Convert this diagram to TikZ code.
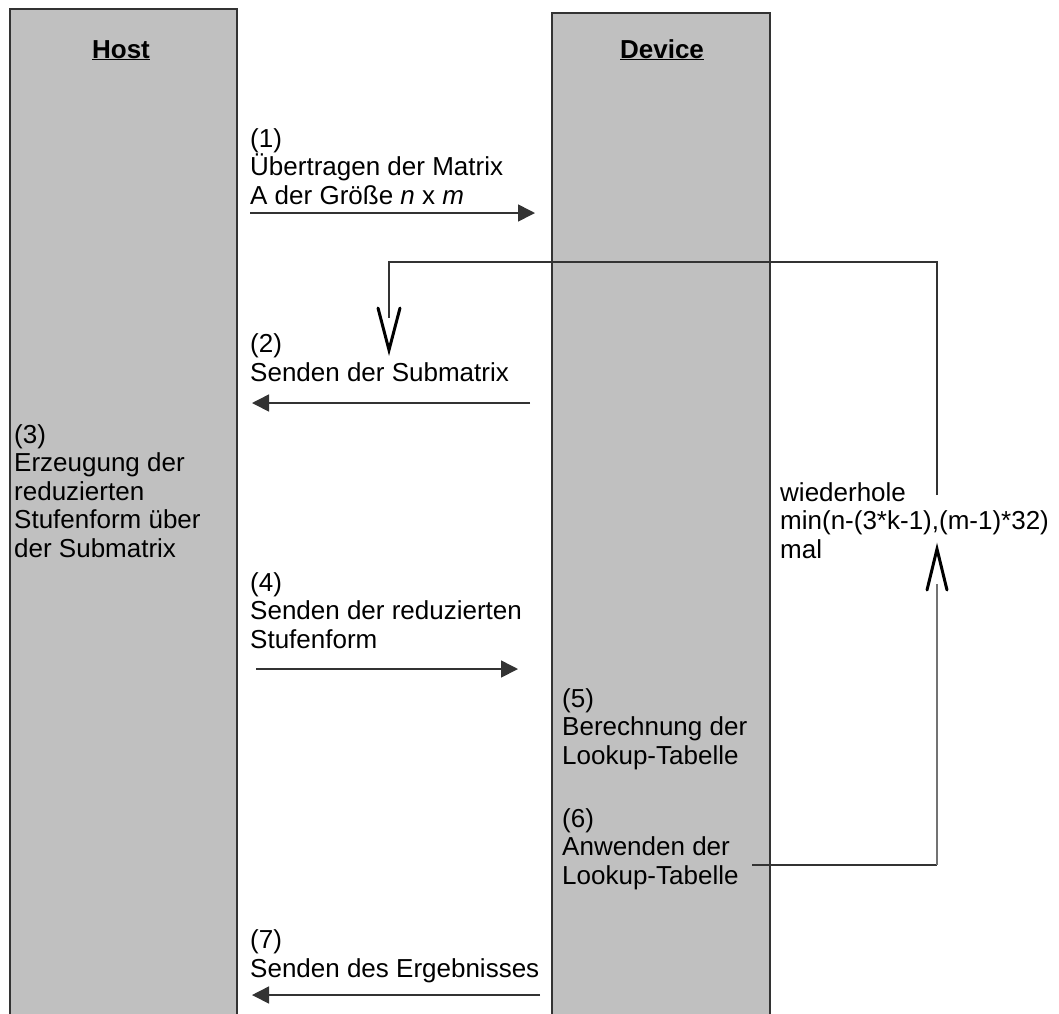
\documentclass[tikz,border=0pt]{standalone}
\usepackage{fontspec}
\setmainfont{Liberation Sans}
\usetikzlibrary{arrows.meta}
\definecolor{lanegray}{HTML}{C0C0C0}
\definecolor{edgegray}{HTML}{333333}
\begin{document}
\begin{tikzpicture}[x=1pt,y=-1pt,
  lane/.style={draw=edgegray, line width=2pt, fill=lanegray, rectangle, inner sep=0},
  title/.style={anchor=base, inner sep=0, font=\fontsize{26}{28}\selectfont\bfseries},
  lbl/.style={anchor=base west, align=left, inner sep=0, font=\fontsize{26}{28.5}\selectfont},
  msg/.style={line width=1.6pt, draw=edgegray, -{Triangle[length=17pt,width=17pt]}},
  loopline/.style={line width=2pt, draw=edgegray},
  loopfaint/.style={line width=2pt, draw=black!55},
  vtip/.style={line width=3pt, draw=black, line join=miter, line cap=round}
]
\useasboundingbox (0,0) rectangle (1059,1013);
% lanes (extend beyond the lower page edge)
\node[lane, minimum width=227pt, minimum height=1030pt] (host) at (123.5,524) {};
\node[lane, minimum width=218pt, minimum height=1030pt] (device) at (661,528) {};
\node[title] (hosttitle) at (121,58) {\underline{Host}};
\node[title] (devtitle) at (662,58) {\underline{Device}};

% labels (anchor = baseline of the last line)
\node[lbl] (t1) at (250,204) {(1)\\Übertragen der Matrix\\A der Größe \textit{n} x \textit{m}};
\node[lbl] (t2) at (250,381) {(2)\\Senden der Submatrix};
\node[lbl] (t3) at (14,557) {(3)\\Erzeugung der\\reduzierten\\Stufenform über\\der Submatrix};
\node[lbl] (t4) at (250,648) {(4)\\Senden der reduzierten\\Stufenform};
\node[lbl] (t5) at (562,764) {(5)\\Berechnung der\\Lookup-Tabelle};
\node[lbl] (t6) at (562,884) {(6)\\Anwenden der\\Lookup-Tabelle};
\node[lbl] (t7) at (250,977) {(7)\\Senden des Ergebnisses};
\node[lbl] (rep) at (780,558) {wiederhole\\min(n-(3*k-1),(m-1)*32)\\mal};

% message arrows
\coordinate (m1a) at (250,213); \coordinate (m1b) at (535,213);
\coordinate (m2a) at (530,403); \coordinate (m2b) at (252,403);
\coordinate (m4a) at (256,669); \coordinate (m4b) at (518,669);
\coordinate (m7a) at (540,995); \coordinate (m7b) at (252,995);
\draw[msg] (m1a) -- (m1b);
\draw[msg] (m2a) -- (m2b);
\draw[msg] (m4a) -- (m4b);
\draw[msg] (m7a) -- (m7b);

% loop
\coordinate (l6) at (752,865);
\coordinate (lc) at (937,865);
\coordinate (upbase) at (937,584);
\coordinate (uptip) at (937,549);
\coordinate (reptop) at (937,495);
\coordinate (tr) at (937,262);
\coordinate (tl) at (389,262);
\coordinate (dnbase) at (389,318);
\coordinate (dntip) at (389,350);
\draw[loopline] (l6) -- (lc);
\draw[loopfaint] (lc) -- (upbase);
\draw[vtip] ([xshift=-10pt,yshift=-41pt]uptip) -- (uptip) -- ([xshift=10pt,yshift=-41pt]uptip);
\draw[loopline] (reptop) -- (tr) -- (tl) -- (dnbase);
\draw[vtip] ([xshift=-11pt,yshift=42pt]dntip) -- (dntip) -- ([xshift=11pt,yshift=42pt]dntip);
\end{tikzpicture}
\end{document}
